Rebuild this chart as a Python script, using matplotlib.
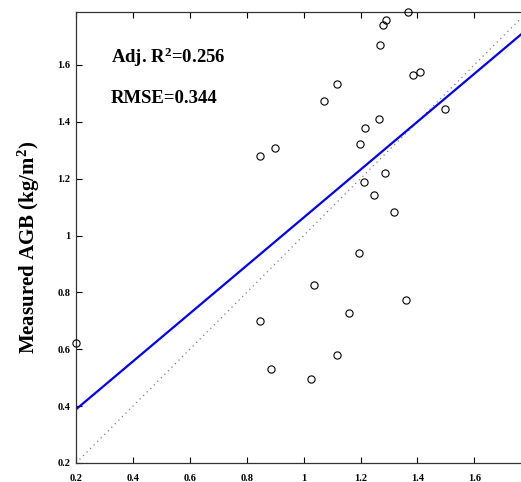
import matplotlib
matplotlib.use("Agg")
import matplotlib.pyplot as plt
import numpy as np

# estimated vs measured AGB (kg/m^2)
estimated = [0.200, 0.847, 0.847, 0.900, 0.885, 1.026, 1.035, 1.118, 1.158,
             1.360, 1.072, 1.119, 1.198, 1.216, 1.265, 1.269, 1.279, 1.291,
             1.366, 1.386, 1.410, 1.498, 1.287, 1.213, 1.249, 1.317, 1.195]
measured = [0.622, 0.700, 1.279, 1.309, 0.532, 0.494, 0.825, 0.581, 0.729,
            0.773, 1.474, 1.533, 1.321, 1.377, 1.408, 1.670, 1.741, 1.757,
            1.786, 1.566, 1.575, 1.446, 1.221, 1.188, 1.142, 1.082, 0.940]

# fitted regression line
fit_slope = 0.843
fit_intercept = 0.220

xticks = [0.2, 0.4, 0.6, 0.8, 1.0, 1.2, 1.4, 1.6]
xtick_labels = ['0.2', '0.4', '0.6', '0.8', '1', '1.2', '1.4', '1.6']
yticks = [0.2, 0.4, 0.6, 0.8, 1.0, 1.2, 1.4, 1.6]
ytick_labels = ['0.2', '0.4', '0.6', '0.8', '1', '1.2', '1.4', '1.6']

plt.rcParams['font.family'] = ['Liberation Serif', 'DejaVu Serif']
plt.rcParams['mathtext.fontset'] = 'custom'
plt.rcParams['mathtext.rm'] = 'Liberation Serif:bold'
plt.rcParams['mathtext.bf'] = 'Liberation Serif:bold'
plt.rcParams['mathtext.it'] = 'Liberation Serif:bold'

fig = plt.figure(figsize=(5.21, 4.82), dpi=100)
ax = fig.add_axes([76 / 521, 19 / 482, 445 / 521, 451 / 482])

xmin, xmax = 0.2, 1.764
ymin, ymax = 0.2, 1.786

# 1:1 line
ax.plot([xmin, xmax], [xmin, xmax], linestyle=(0, (1, 3)), color='gray', linewidth=0.9, zorder=1)

# regression line
xf = np.array([xmin, xmax])
ax.plot(xf, fit_intercept + fit_slope * xf, color='blue', linewidth=1.6, zorder=2)

ax.plot(estimated, measured, 'o', markerfacecolor='none', markeredgecolor='black',
        markersize=5.2, markeredgewidth=0.8, clip_on=False, zorder=3)

ax.set_xlim(xmin, xmax)
ax.set_ylim(ymin, ymax)
ax.set_xticks(xticks)
ax.set_xticklabels(xtick_labels)
ax.set_yticks(yticks)
ax.set_yticklabels(ytick_labels)
ax.tick_params(direction='in', length=4, width=0.8, top=True, right=False,
               labelsize=7.5, pad=4, colors='black')
ax.tick_params(axis='x', pad=8)
for lbl in ax.get_xticklabels() + ax.get_yticklabels():
    lbl.set_fontweight('bold')

ax.spines['right'].set_visible(False)
for s in ['left', 'bottom', 'top']:
    ax.spines[s].set_color('#333333')
    ax.spines[s].set_linewidth(0.9)

ax.set_ylabel('Measured AGB (kg/m$^{2}$)', fontsize=15, fontweight='bold')
ax.yaxis.set_label_coords(-0.077, 0.479)

ax.text(0.322, 1.607, 'Adj. R$^{2}$=0.256', fontsize=13.5, fontweight='bold')
ax.text(0.322, 1.467, 'RMSE=0.344', fontsize=13.5, fontweight='bold')

fig.savefig('out.png', dpi=100)
